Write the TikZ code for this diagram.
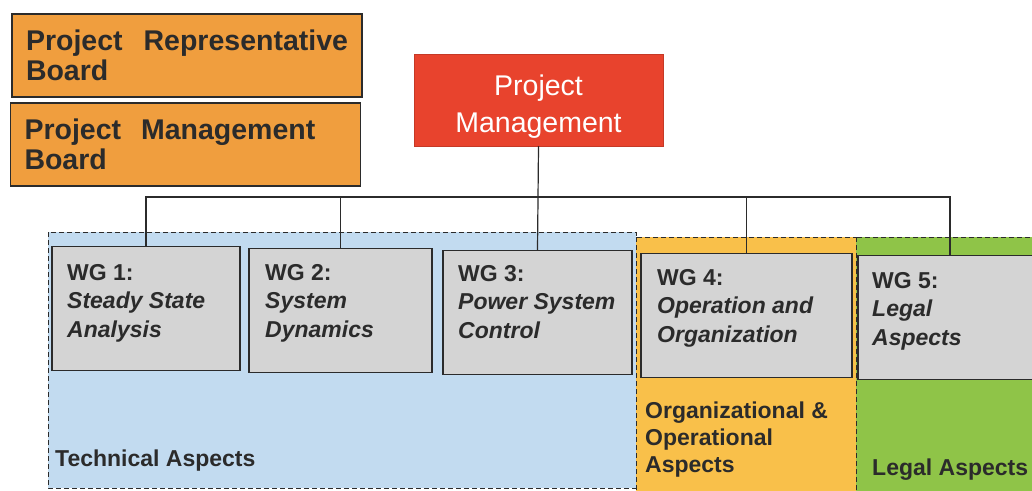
\documentclass[tikz,border=0pt]{standalone}
\usepackage{fontspec}
\setmainfont{Liberation Sans}
\usetikzlibrary{positioning}

\definecolor{boardorange}{RGB}{240,158,62}
\definecolor{pmred}{RGB}{232,67,45}
\definecolor{techblue}{RGB}{194,219,240}
\definecolor{orgorange}{RGB}{249,192,74}
\definecolor{legalgreen}{RGB}{143,196,72}
\definecolor{wggray}{RGB}{212,212,212}
\definecolor{inkdark}{RGB}{43,43,43}

\tikzset{
  board/.style={draw=inkdark, line width=1.2pt, fill=boardorange, text=inkdark,
    font=\fontsize{28.5}{30.5}\selectfont\bfseries, align=left, text width=322pt,
    inner xsep=14pt, inner ysep=0pt, minimum height=83pt},
  mgmt/.style={draw=pmred!85!black, fill=pmred,
    minimum width=249pt, minimum height=92pt},
  mgmttext/.style={text=white, font=\fontsize{28.5}{37}\selectfont, align=center,
    inner sep=0pt},
  wg/.style={draw=inkdark, line width=1.3pt, fill=wggray, minimum height=124pt},
  wgtext/.style={anchor=north west, inner sep=0pt, align=left, text=inkdark,
    font=\fontsize{23}{28.5}\selectfont\bfseries},
  area/.style={draw=inkdark, line width=1pt, dash pattern=on 5pt off 3pt},
  arealabel/.style={anchor=north west, inner sep=0pt, align=left, text=inkdark,
    font=\fontsize{23}{27}\selectfont\bfseries},
  link/.style={draw=inkdark, line width=1.2pt},
}

\begin{document}
\begin{tikzpicture}[x=1pt, y=-1pt]

\useasboundingbox[fill=white] (0,0) rectangle (1032,490);
\clip (0,0) rectangle (1032,490);

% Aspect areas
\draw[area, fill=techblue] (48,232) rectangle (636,488);
\draw[area, fill=orgorange] (636,237) rectangle (856,492);
\draw[area, fill=legalgreen] (856,237) rectangle (1040,492);

% Boards
\node[board] (prb) at (187,55.5) {Project\hfill Representative\\Board};
\node[board] (pmb) at (185.5,144.5) {Project\hspace{20pt}Management\\Board};

% Project management
\node[mgmt] (pm) at (538.5,100) {};
\node[mgmttext] (pmt) at (538.5,107) {Project\\Management};

% Working groups
\node[wg, minimum width=188pt] (wg1) at (146,308.5) {};
\node[wg, minimum width=183pt] (wg2) at (340.5,310.5) {};
\node[wg, minimum width=189pt] (wg3) at (537.5,312.5) {};
\node[wg, minimum width=211pt] (wg4) at (746.5,315.5) {};
\node[wg, minimum width=184pt] (wg5) at (950,317.5) {};

\node[wgtext] (wg1t) at (67,264) {WG 1:\\\textit{Steady State}\\\textit{Analysis}};
\node[wgtext] (wg2t) at (265,264) {WG 2:\\\textit{System}\\\textit{Dynamics}};
\node[wgtext] (wg3t) at (458,265) {WG 3:\\\textit{Power System}\\\textit{Control}};
\node[wgtext] (wg4t) at (657,269) {WG 4:\\\textit{Operation and}\\\textit{Organization}};
\node[wgtext] (wg5t) at (872,272) {WG 5:\\\textit{Legal}\\\textit{Aspects}};

% Area labels
\node[arealabel] (techlbl) at (55,450) {Technical Aspects};
\node[arealabel] (orglbl) at (645,402) {Organizational \&\\Operational\\Aspects};
\node[arealabel] (legallbl) at (872,459) {Legal Aspects};

% Connectors
\coordinate (bus) at (537,197);
\draw[link] (pm.south) -- (wg3.north);
\draw[link] (wg1.north) |- (bus) -| (wg5.north);
\draw[link] (wg2.north) -- (wg2.north |- bus);
\draw[link] (wg4.north) -- (wg4.north |- bus);

\end{tikzpicture}
\end{document}
